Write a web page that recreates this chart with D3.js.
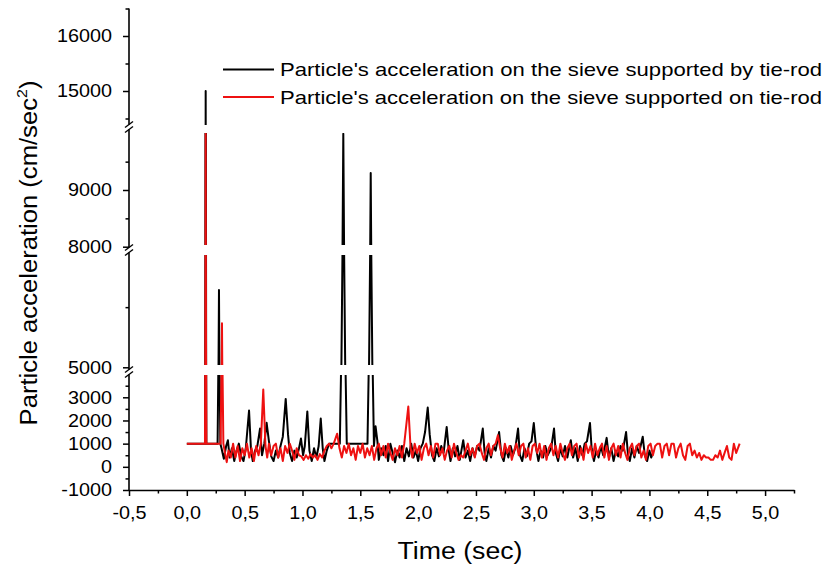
<!DOCTYPE html>
<html>
<head>
<meta charset="utf-8">
<script src="https://cdn.jsdelivr.net/npm/d3@7"></script>
<style>
  body { margin: 0; background: #fff; }
  text { font-family: "Liberation Sans", Arial, sans-serif; fill: #000; }
</style>
</head>
<body>
<svg id="chart"></svg>
<script>
// [time (sec), acceleration (cm/sec^2)]
const blackSeries = [[0,1000],[0.157,1000],[0.163,15000],[0.169,1000],[0.266,1000],[0.278,6930],[0.29,1000],
  [0.30,800],[0.32,350],[0.34,900],[0.355,1150],[0.37,400],[0.39,800],[0.41,250],[0.43,700],[0.45,1000],[0.47,450],[0.49,250],[0.51,800],[0.538,2430],[0.555,700],[0.57,250],[0.59,700],[0.61,900],[0.633,1650],[0.65,500],[0.67,1000],[0.69,1900],[0.71,1100],[0.73,450],[0.75,250],[0.77,700],[0.79,400],[0.81,900],[0.83,1300],[0.855,2930],[0.875,1400],[0.89,600],[0.91,250],[0.93,700],[0.95,400],[0.97,800],[0.987,1220],[1.005,500],[1.02,900],[1.042,2390],[1.06,700],[1.08,250],[1.10,800],[1.12,400],[1.14,900],[1.158,2080],[1.175,800],[1.19,250],[1.21,700],[1.23,1000],[1.25,1000],[1.323,1000],[1.353,9990],[1.383,1000],[1.562,1000],[1.59,9300],[1.618,900],[1.632,1750],[1.648,1100],[1.66,300],[1.68,800],[1.70,500],[1.72,900],[1.74,250],[1.76,1000],[1.78,600],[1.80,200],[1.82,700],[1.84,400],[1.86,900],[1.88,250],[1.90,800],[1.92,450],[1.94,1000],[1.96,400],[1.98,700],[2.00,250],[2.02,800],[2.04,1000],[2.06,1500],[2.083,2560],[2.10,1400],[2.12,500],[2.14,250],[2.16,800],[2.18,450],[2.20,900],[2.22,600],[2.247,1720],[2.265,700],[2.28,250],[2.30,800],[2.32,450],[2.34,900],[2.36,300],[2.39,1150],[2.41,400],[2.43,700],[2.45,250],[2.47,800],[2.49,450],[2.51,900],[2.53,700],[2.559,1650],[2.575,600],[2.59,250],[2.61,800],[2.63,400],[2.65,900],[2.67,700],[2.70,1500],[2.72,500],[2.74,250],[2.76,800],[2.78,400],[2.80,900],[2.82,500],[2.84,800],[2.864,1650],[2.88,500],[2.90,250],[2.92,800],[2.94,450],[2.96,1000],[2.98,1100],[3.00,1890],[3.02,800],[3.04,250],[3.06,700],[3.08,400],[3.10,900],[3.12,500],[3.15,800],[3.175,1650],[3.19,600],[3.21,250],[3.23,800],[3.25,450],[3.27,900],[3.29,400],[3.32,1150],[3.34,400],[3.36,800],[3.38,250],[3.40,900],[3.42,500],[3.44,1000],[3.46,1100],[3.486,1890],[3.50,800],[3.52,250],[3.54,700],[3.56,400],[3.58,900],[3.60,500],[3.63,1250],[3.65,400],[3.67,800],[3.69,250],[3.71,700],[3.73,450],[3.75,900],[3.77,700],[3.798,1500],[3.815,500],[3.83,250],[3.85,800],[3.87,400],[3.89,900],[3.91,600],[3.942,1300],[3.96,500],[3.98,250],[4.00,700],[4.015,400],[4.03,600]];

const redSeries = [[0,1000],[0.157,1000],[0.163,9990],[0.169,1000],[0.292,1000],[0.304,6100],[0.316,1000],
  [0.33,600],[0.345,200],[0.36,700],[0.38,400],[0.40,1000],[0.42,400],[0.44,900],[0.46,250],[0.48,800],[0.50,500],[0.52,1000],[0.54,400],[0.56,800],[0.58,250],[0.60,900],[0.62,500],[0.64,1000],[0.661,3340],[0.68,900],[0.695,400],[0.71,1000],[0.73,500],[0.75,900],[0.77,1000],[0.79,400],[0.81,800],[0.83,250],[0.85,900],[0.87,600],[0.89,1000],[0.91,700],[0.93,300],[0.95,800],[0.97,500],[0.99,450],[1.01,300],[1.03,500],[1.05,350],[1.07,550],[1.09,400],[1.11,500],[1.13,300],[1.15,550],[1.17,400],[1.19,700],[1.21,900],[1.23,1000],[1.25,800],[1.27,1000],[1.30,1430],[1.32,800],[1.34,400],[1.36,900],[1.38,600],[1.40,1000],[1.42,500],[1.44,800],[1.46,300],[1.48,900],[1.50,600],[1.52,1000],[1.54,400],[1.56,800],[1.58,500],[1.60,900],[1.62,300],[1.64,800],[1.66,1000],[1.68,500],[1.70,900],[1.72,400],[1.74,1000],[1.76,600],[1.78,300],[1.80,800],[1.82,500],[1.84,900],[1.86,400],[1.88,1000],[1.915,2600],[1.935,800],[1.95,400],[1.97,1000],[1.99,600],[2.01,900],[2.03,300],[2.05,800],[2.07,1000],[2.09,500],[2.11,900],[2.13,400],[2.15,1000],[2.17,1000],[2.19,500],[2.21,800],[2.23,300],[2.25,700],[2.27,900],[2.29,400],[2.31,1000],[2.33,600],[2.35,300],[2.37,500],[2.39,400],[2.41,700],[2.43,1000],[2.45,500],[2.47,800],[2.49,400],[2.51,900],[2.53,1000],[2.55,600],[2.57,300],[2.59,800],[2.61,1000],[2.63,500],[2.65,900],[2.67,1000],[2.69,1360],[2.71,800],[2.73,400],[2.75,1000],[2.77,600],[2.79,900],[2.81,300],[2.83,700],[2.85,1000],[2.87,500],[2.89,900],[2.91,1000],[2.93,400],[2.95,800],[2.97,300],[2.99,900],[3.01,1000],[3.03,600],[3.05,1000],[3.07,400],[3.09,900],[3.11,300],[3.13,800],[3.15,1000],[3.17,500],[3.19,900],[3.21,400],[3.23,1000],[3.25,600],[3.27,300],[3.29,800],[3.31,1000],[3.33,500],[3.35,900],[3.37,1000],[3.39,400],[3.41,800],[3.43,300],[3.45,1000],[3.47,600],[3.49,900],[3.51,400],[3.53,1000],[3.55,500],[3.57,800],[3.59,1000],[3.61,400],[3.63,900],[3.65,300],[3.67,800],[3.69,1000],[3.71,500],[3.73,900],[3.75,400],[3.77,1000],[3.79,600],[3.81,300],[3.83,800],[3.85,1000],[3.87,500],[3.89,900],[3.91,1000],[3.93,400],[3.95,700],[3.97,300],[3.99,900],[4.01,1000],[4.03,500],[4.05,900],[4.07,1000],[4.09,1000],[4.11,400],[4.13,900],[4.15,1000],[4.17,500],[4.19,1000],[4.21,1000],[4.23,400],[4.25,800],[4.27,1000],[4.29,500],[4.31,300],[4.33,900],[4.35,1000],[4.37,500],[4.39,700],[4.41,400],[4.43,600],[4.45,300],[4.47,500],[4.49,400],[4.51,400],[4.53,300],[4.55,300],[4.57,500],[4.59,400],[4.61,700],[4.63,300],[4.65,600],[4.67,900],[4.69,400],[4.71,300],[4.73,1000],[4.75,600],[4.78,1000]];

const seriesNames = ["Particle's acceleration on the sieve supported by tie-rod",
                     "Particle's acceleration on the sieve supported on tie-rod"];
const seriesColors = ['#000000', '#ee1111'];

const xTickValues = [-0.5, 0, 0.5, 1, 1.5, 2, 2.5, 3, 3.5, 4, 4.5, 5];
const xTickLabels = ['-0,5', '0,0', '0,5', '1,0', '1,5', '2,0', '2,5', '3,0', '3,5', '4,0', '4,5', '5,0'];
const xMinorTicks = [-0.25, 0.25, 0.75, 1.25, 1.75, 2.25, 2.75, 3.25, 3.75, 4.25, 4.75, 5.25];

// broken y axis: one scale per piece
const yMajorTicks = [[-1000, 0, 1000, 2000, 3000], [5000], [8000, 9000], [15000, 16000]];
const yMinorTicks = [[-500, 500, 1500, 2500, 3500], [6500], [8500, 9500], [14500, 15500, 16500]];

const width = 829, height = 568;
const left = 129, right = 794, bottom = 490;
const stretch = 1.1;

const pieces = [
    {domain: [-1000, 3000], range: [490, 397.3], clip: [375, 490], axis: [490, 374.5]},
    {domain: [5000, 8000],  range: [367.3, 247], clip: [255, 365], axis: [369.5, 252.5]},
    {domain: [8000, 9000],  range: [246.7, 190], clip: [133, 245], axis: [247.5, 129.5]},
    {domain: [15000, 16000], range: [91, 36],    clip: [9, 125],   axis: [124.5, 8.5]}
];
pieces.forEach((p, i) => {
    p.y = d3.scaleLinear().domain(p.domain).range(p.range);
    p.major = yMajorTicks[i];
    p.minor = yMinorTicks[i];
});

const svg = d3.select('#chart')
    .attr('width', width)
    .attr('height', height);

const x = d3.scaleLinear().domain([-0.5, 5.25]).range([left, right]);

const defs = svg.append('defs');
pieces.forEach((p, i) => {
    defs.append('clipPath').attr('id', 'piece' + i)
        .append('rect')
        .attr('x', left)
        .attr('y', p.clip[0])
        .attr('width', right - left)
        .attr('height', p.clip[1] - p.clip[0]);
});

const series = [blackSeries, redSeries];

pieces.forEach((p, i) => {
    const line = d3.line().x(d => x(d[0])).y(d => p.y(d[1]));
    const g = svg.append('g').attr('clip-path', `url(#piece${i})`);
    series.forEach((s, j) => {
        g.append('path')
            .datum(s)
            .attr('d', line)
            .attr('fill', 'none')
            .attr('stroke', seriesColors[j])
            .attr('stroke-width', 2)
            .attr('stroke-linejoin', 'round');
    });
});

// x axis
const xAxis = svg.append('g')
    .attr('transform', `translate(0,${bottom})`)
    .call(d3.axisBottom(x).tickValues(xTickValues)
        .tickFormat((d, i) => xTickLabels[i]).tickSize(6).tickSizeOuter(0).tickPadding(10));
xAxis.select('.domain').attr('stroke-width', 1.6);
xAxis.selectAll('.tick line').attr('stroke-width', 1.5);
xAxis.selectAll('text').attr('font-size', 18).attr('font-family', '"Liberation Sans", Arial, sans-serif')
    .attr('transform', `scale(${stretch},1)`);

svg.append('g')
    .attr('transform', `translate(0,${bottom})`)
    .call(d3.axisBottom(x).tickValues(xMinorTicks).tickFormat('').tickSize(3.5).tickSizeOuter(0))
    .call(g => g.select('.domain').remove())
    .selectAll('line').attr('stroke-width', 1.5);

// y axis pieces
pieces.forEach(p => {
    const ga = svg.append('g')
        .attr('transform', `translate(${left},0)`)
        .call(d3.axisLeft(p.y).tickValues(p.major).tickFormat(d => String(d))
            .tickSize(6).tickPadding(9.5))
        .call(g => g.select('.domain').remove());
    ga.selectAll('.tick line').attr('stroke-width', 1.5);
    ga.selectAll('text').attr('font-size', 18).attr('font-family', '"Liberation Sans", Arial, sans-serif')
        .attr('transform', `scale(${stretch},1)`);

    svg.append('g')
        .attr('transform', `translate(${left},0)`)
        .call(d3.axisLeft(p.y).tickValues(p.minor).tickFormat('').tickSize(3.5))
        .call(g => g.select('.domain').remove())
        .selectAll('line').attr('stroke-width', 1.5);

    svg.append('line')
        .attr('x1', left).attr('x2', left)
        .attr('y1', p.axis[0]).attr('y2', p.axis[1])
        .attr('stroke', '#000').attr('stroke-width', 1.6);
});

// break marks
pieces.slice(1).forEach((p, i) => {
    [pieces[i].axis[1], p.axis[0]].forEach(yb => {
        svg.append('line')
            .attr('x1', left - 4).attr('y1', yb + 3)
            .attr('x2', left + 4).attr('y2', yb - 3)
            .attr('stroke', '#000').attr('stroke-width', 1.4);
    });
});

// legend
const legend = svg.append('g');
seriesNames.forEach((name, i) => {
    const ly = 69.5 + i * 27.5;
    legend.append('line')
        .attr('x1', 223).attr('x2', 274)
        .attr('y1', ly).attr('y2', ly)
        .attr('stroke', seriesColors[i]).attr('stroke-width', 2);
    legend.append('text')
        .attr('x', 280).attr('y', ly + 6.8)
        .attr('font-size', 19)
        .attr('textLength', 542).attr('lengthAdjust', 'spacingAndGlyphs')
        .text(name);
});

// axis titles
const xt = svg.append('g');
const xtText = xt.append('text').attr('text-anchor', 'middle').attr('font-size', 23).text('Time (sec)');
xt.attr('transform', `translate(460,559) scale(${125 / xtText.node().getComputedTextLength()},1)`);

const yt = svg.append('g');
const ytText = yt.append('text').attr('text-anchor', 'middle').attr('font-size', 24);
ytText.append('tspan').text('Particle acceleration (cm/sec');
ytText.append('tspan').attr('font-size', 15).attr('dy', -10).text('2');
ytText.append('tspan').attr('dy', 10).text(')');
const ytw = ytText.node().getBBox().width;
yt.attr('transform', `translate(37,253) rotate(-90) scale(${345 / ytw},1)`);
</script>
</body>
</html>
